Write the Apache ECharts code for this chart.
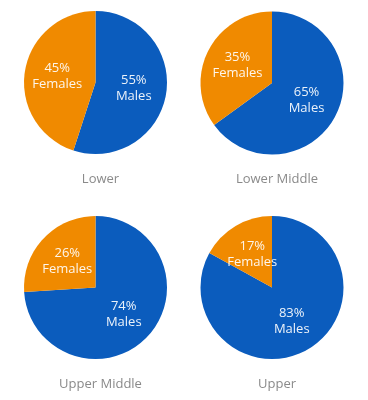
<!DOCTYPE html>
<html>
<head>
<meta charset="utf-8">
<script src="https://cdn.jsdelivr.net/npm/echarts@6/dist/echarts.min.js"></script>
<style>
html,body{margin:0;padding:0;background:#fff;}
#main{width:368px;height:400px;}
</style>
</head>
<body>
<div id="main"></div>
<script>
var groups = ['Lower', 'Lower Middle', 'Upper Middle', 'Upper'];
var categories = ['Males', 'Females'];
var males = [55, 65, 74, 83];
var females = [45, 35, 26, 17];

var centers = [[95.5, 82.5], [272, 83], [95.5, 287.5], [272, 287.5]];
var titleTops = [168, 168, 373, 373];
var colors = ['#0b5cbd', '#f08a00'];

var chart = echarts.init(document.getElementById('main'), null, {renderer: 'canvas'});
var series = groups.map(function (g, i) {
  return {
    type: 'pie',
    name: g,
    center: centers[i],
    radius: 71.5,
    startAngle: 90,
    clockwise: true,
    silent: true,
    label: {
      show: true,
      position: 'inside',
      formatter: '{c}%\n{b}',
      color: 'rgba(255,255,255,0.92)',
      fontFamily: 'Open Sans',
      fontSize: 13,
      lineHeight: 16
    },
    labelLine: {show: false},
    itemStyle: {borderWidth: 0},
    data: [
      {name: categories[0], value: males[i], itemStyle: {color: colors[0]}},
      {name: categories[1], value: females[i], itemStyle: {color: colors[1]}}
    ]
  };
});
var titles = groups.map(function (g, i) {
  return {
    text: g,
    left: centers[i][0],
    top: titleTops[i],
    textAlign: 'center',
    textStyle: {fontFamily: 'Open Sans', fontSize: 13, fontWeight: 'normal', color: '#8a8a8a'}
  };
});
chart.setOption({
  animation: false,
  title: titles,
  series: series
});
</script>
</body>
</html>
